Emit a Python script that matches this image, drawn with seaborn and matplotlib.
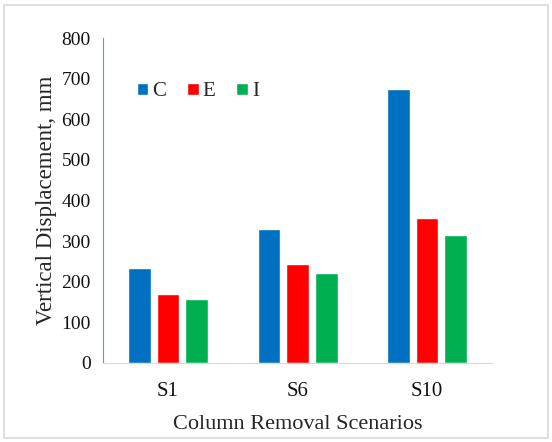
import matplotlib
matplotlib.use("Agg")
import matplotlib.pyplot as plt
from matplotlib.patches import Rectangle
import seaborn as sns
import pandas as pd

# Data
scenarios = ["S1", "S6", "S10"]
series_names = ["C", "E", "I"]
c_values = [233, 329, 674]
e_values = [170, 243, 358]
i_values = [157, 222, 314]
y_ticks = [0, 100, 200, 300, 400, 500, 600, 700, 800]

colors = {"C": "#0070C0", "E": "#FF0000", "I": "#00B050"}

sns.set_style("white")
plt.rcParams['font.family'] = ['Liberation Serif', 'DejaVu Serif']

df = pd.DataFrame({
    "Scenario": scenarios * 3,
    "Series": ["C"] * 3 + ["E"] * 3 + ["I"] * 3,
    "Value": c_values + e_values + i_values,
})

fig = plt.figure(figsize=(5.52, 4.42), dpi=100)
ax = fig.add_axes([0.187, 0.179, 0.704, 0.735])

sns.barplot(data=df, x="Scenario", y="Value", hue="Series",
            order=scenarios, hue_order=series_names, palette=colors,
            width=0.662, gap=0.2, saturation=1, ax=ax, errorbar=None)

ax.set_xlim(-0.5, 2.5)
ax.set_ylim(0, 800)
ax.set_yticks(y_ticks)
ax.tick_params(axis='y', direction='in', length=5, color='#5B9BD5',
               labelsize=14, pad=9, labelcolor='#111111')
ax.tick_params(axis='x', length=0, labelsize=15, pad=14, labelcolor='#111111')

for side in ["top", "right"]:
    ax.spines[side].set_visible(False)
ax.spines["left"].set_color('#5B9BD5')
ax.spines["bottom"].set_color('#D9D9D9')

ax.set_xlabel("Column Removal Scenarios", fontsize=16, labelpad=10)
ax.set_ylabel("Vertical Displacement, mm", fontsize=16.5, labelpad=3)

ax.legend(loc="center left", bbox_to_anchor=(0.065, 0.834), ncol=3,
          frameon=False, fontsize=15, handlelength=0.55, handleheight=0.55,
          handletextpad=0.2, columnspacing=1.0, borderaxespad=0)

# light frame around the figure
fig.patches.append(Rectangle((0.008, 0.01), 0.984, 0.978, transform=fig.transFigure,
                             fill=False, edgecolor='#D9D9D9', linewidth=1.2))

fig.savefig("out.png", dpi=100)
